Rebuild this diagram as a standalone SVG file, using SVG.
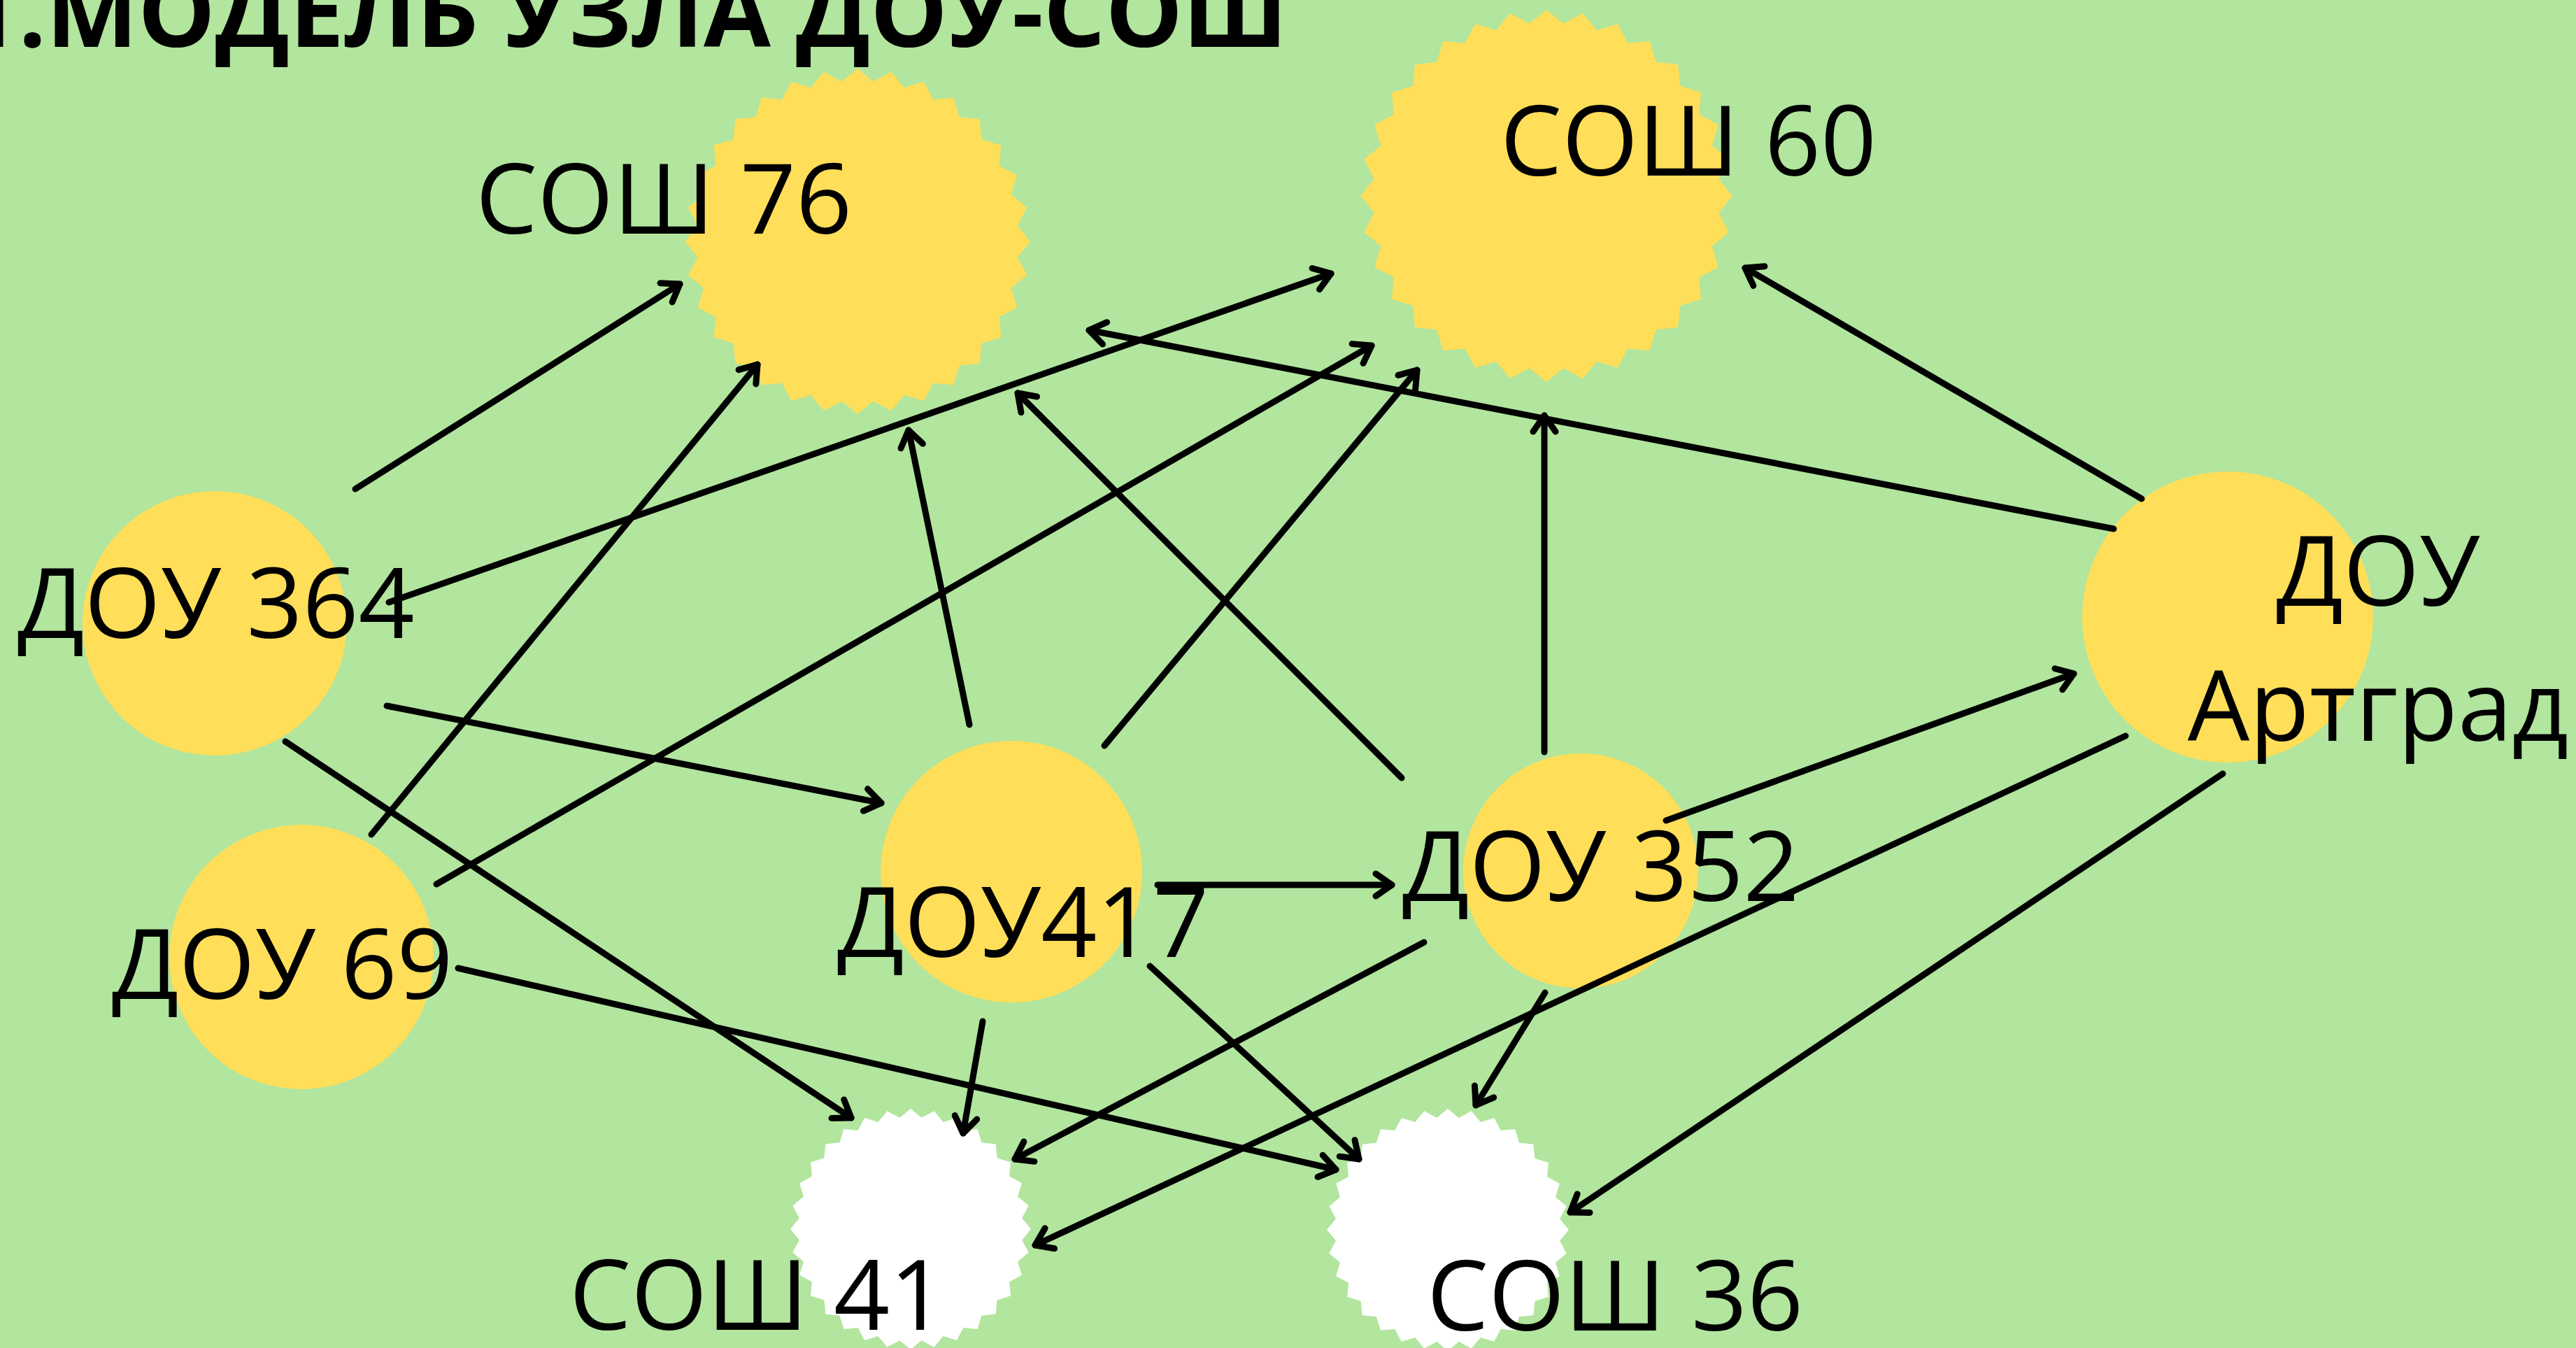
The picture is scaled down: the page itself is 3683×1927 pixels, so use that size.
<svg xmlns="http://www.w3.org/2000/svg" xmlns:xlink="http://www.w3.org/1999/xlink" width="3683" height="1927" viewBox="0 0 3683 1927">
<style>
.lbl{font-family:"Open Sans","Liberation Sans",sans-serif;font-size:140px;fill:#000;}
.title{font-family:"Open Sans","Liberation Sans",sans-serif;font-size:139px;font-weight:bold;fill:#000;}
.yel{fill:#FFDE59;}
.wht{fill:#FFFFFF;}
.conn line{stroke:#000;stroke-width:9;stroke-linecap:round;fill:none;marker-end:url(#ah);}
</style>
<defs>
<marker id="ah" markerUnits="userSpaceOnUse" markerWidth="80" markerHeight="80" refX="40" refY="40" orient="auto" viewBox="0 0 80 80">
<path d="M17 24 L40 40 L17 56" fill="none" stroke="#000" stroke-width="9" stroke-linecap="round" stroke-linejoin="round"/>
</marker>
<path id="star32" d="M0,-100 L9.12,-92.55 L19.51,-98.08 L27,-89 L38.27,-92.39 L43.84,-82.02 L55.56,-83.15 L59,-71.89 L70.71,-70.71 L71.89,-59 L83.15,-55.56 L82.02,-43.84 L92.39,-38.27 L89,-27 L98.08,-19.51 L92.55,-9.12 L100,0 L92.55,9.12 L98.08,19.51 L89,27 L92.39,38.27 L82.02,43.84 L83.15,55.56 L71.89,59 L70.71,70.71 L59,71.89 L55.56,83.15 L43.84,82.02 L38.27,92.39 L27,89 L19.51,98.08 L9.12,92.55 L0,100 L-9.12,92.55 L-19.51,98.08 L-27,89 L-38.27,92.39 L-43.84,82.02 L-55.56,83.15 L-59,71.89 L-70.71,70.71 L-71.89,59 L-83.15,55.56 L-82.02,43.84 L-92.39,38.27 L-89,27 L-98.08,19.51 L-92.55,9.12 L-100,0 L-92.55,-9.12 L-98.08,-19.51 L-89,-27 L-92.39,-38.27 L-82.02,-43.84 L-83.15,-55.56 L-71.89,-59 L-70.71,-70.71 L-59,-71.89 L-55.56,-83.15 L-43.84,-82.02 L-38.27,-92.39 L-27,-89 L-19.51,-98.08 L-9.12,-92.55 Z"/>
</defs>
<rect x="0" y="0" width="3683" height="1927" fill="#B2E59E"/>
<text class="title" x="-53" y="67">1.МОДЕЛЬ УЗЛА ДОУ-СОШ</text>

<g id="sosh76">
<use xlink:href="#star32" class="yel" transform="translate(1226,345) scale(2.47)"/>
<text class="lbl" x="680" y="334">СОШ 76</text>
</g>
<g id="sosh60">
<use xlink:href="#star32" class="yel" transform="translate(2211,280) scale(2.66)"/>
<text class="lbl" x="2145" y="251">СОШ 60</text>
</g>
<g id="sosh41">
<use xlink:href="#star32" class="wht" transform="translate(1302,1757) scale(1.72)"/>
<text class="lbl" x="814" y="1901">СОШ 41</text>
</g>
<g id="sosh36">
<use xlink:href="#star32" class="wht" transform="translate(2070,1758) scale(1.73)"/>
<text class="lbl" x="2040" y="1902">СОШ 36</text>
</g>
<g id="dou364">
<circle class="yel" cx="307" cy="891" r="189"/>
<text class="lbl" x="25" y="912">ДОУ 364</text>
</g>
<g id="dou69">
<circle class="yel" cx="431" cy="1368" r="189"/>
<text class="lbl" x="160" y="1428">ДОУ 69</text>
</g>
<g id="dou417">
<circle class="yel" cx="1446" cy="1246" r="187"/>
<text class="lbl" x="1197" y="1368">ДОУ417</text>
</g>
<g id="dou352">
<circle class="yel" cx="2260" cy="1245" r="168"/>
<text class="lbl" x="2005" y="1288">ДОУ 352</text>
</g>
<g id="douArtgrad">
<circle class="yel" cx="3185" cy="882" r="208"/>
<text class="lbl" text-anchor="middle" x="3400" y="866">ДОУ</text>
<text class="lbl" text-anchor="middle" x="3400" y="1059">Артград</text>
</g>

<g id="connectors" class="conn">
<line x1="508" y1="699" x2="972" y2="406"/>
<line x1="556" y1="861" x2="1903" y2="391"/>
<line x1="531" y1="1193" x2="1083" y2="521"/>
<line x1="624" y1="1264" x2="1961" y2="494"/>
<line x1="1579" y1="1066" x2="2026" y2="529"/>
<line x1="1386" y1="1036" x2="1299" y2="615"/>
<line x1="2004" y1="1112" x2="1455" y2="562"/>
<line x1="2208" y1="1075" x2="2208" y2="594"/>
<line x1="3022" y1="756" x2="1557" y2="472"/>
<line x1="3062" y1="713" x2="2495" y2="383"/>
<line x1="553" y1="1009" x2="1260" y2="1148"/>
<line x1="408" y1="1060" x2="1217" y2="1598"/>
<line x1="655" y1="1384" x2="1910" y2="1672"/>
<line x1="1655" y1="1265" x2="1990" y2="1265"/>
<line x1="1405" y1="1460" x2="1377" y2="1620"/>
<line x1="1644" y1="1381" x2="1943" y2="1657"/>
<line x1="2036" y1="1347" x2="1451" y2="1657"/>
<line x1="2209" y1="1419" x2="2110" y2="1580"/>
<line x1="2382" y1="1173" x2="2965" y2="963"/>
<line x1="3039" y1="1052" x2="1480" y2="1780"/>
<line x1="3178" y1="1106" x2="2245" y2="1733"/>
</g>
</svg>
